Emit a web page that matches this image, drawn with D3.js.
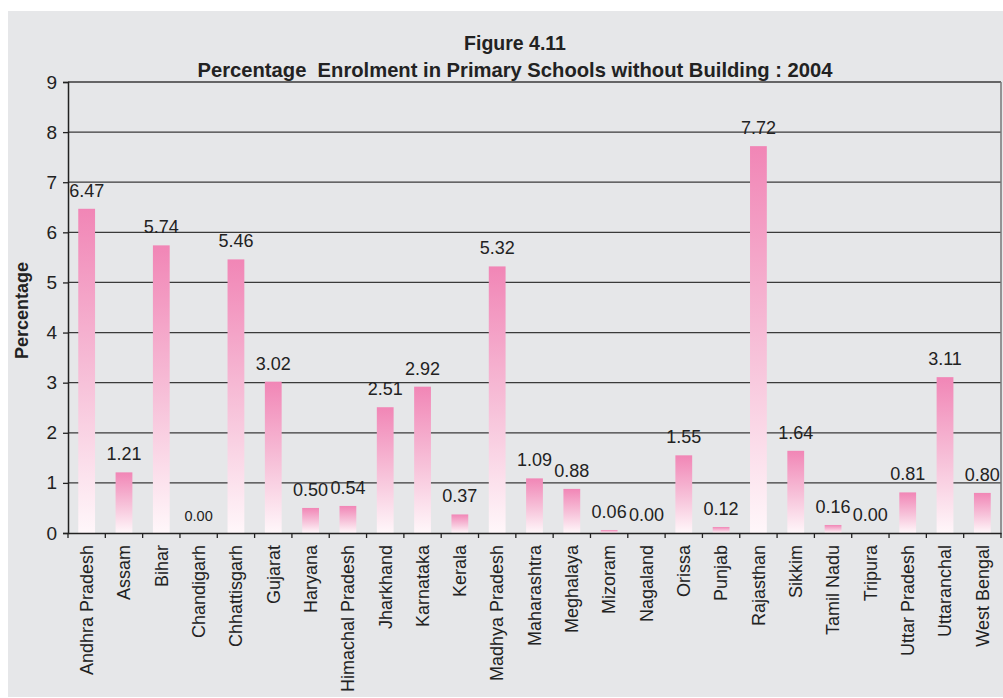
<!DOCTYPE html>
<html><head><meta charset="utf-8">
<script src="https://cdn.jsdelivr.net/npm/d3@7"></script>
<style>
html,body{margin:0;padding:0;background:#fff;}
svg{display:block;font-family:"Liberation Sans",Arial,Helvetica,sans-serif;}
</style></head>
<body>
<svg id="chart" width="1003" height="698"></svg>
<script>
const categories = ["Andhra Pradesh","Assam","Bihar","Chandigarh","Chhattisgarh","Gujarat","Haryana","Himachal Pradesh","Jharkhand","Karnataka","Kerala","Madhya Pradesh","Maharashtra","Meghalaya","Mizoram","Nagaland","Orissa","Punjab","Rajasthan","Sikkim","Tamil Nadu","Tripura","Uttar Pradesh","Uttaranchal","West Bengal"];
const values = [6.47,1.21,5.74,0.00,5.46,3.02,0.50,0.54,2.51,2.92,0.37,5.32,1.09,0.88,0.06,0.00,1.55,0.12,7.72,1.64,0.16,0.00,0.81,3.11,0.80];
const yTicks = [0,1,2,3,4,5,6,7,8,9];
const titleLines = ["Figure 4.11","Percentage  Enrolment in Primary Schools without Building : 2004"];
const yTitle = "Percentage";

const svg = d3.select("#chart");
const W = 1003, H = 698;
const m = {left:68, right:2, top:82, bottom:165};

svg.append("rect").attr("x",8).attr("y",11).attr("width",W-8).attr("height",686).attr("fill","#e6e7e9");

const x = d3.scaleBand().domain(categories).range([m.left, W-m.right]).paddingInner(0.55).paddingOuter(0.275);
const y = d3.scaleLinear().domain([0,9]).range([H-m.bottom, m.top]);

const defs = svg.append("defs");
const grad = defs.append("linearGradient").attr("id","barGrad").attr("x1",0).attr("y1",0).attr("x2",0).attr("y2",1);
grad.append("stop").attr("offset","0%").attr("stop-color","#f186b6");
grad.append("stop").attr("offset","55%").attr("stop-color","#f7c3da");
grad.append("stop").attr("offset","100%").attr("stop-color","#fff7fa");

// gridlines
svg.append("g").selectAll("line").data(yTicks.filter(d=>d>0)).join("line")
  .attr("x1",m.left).attr("x2",W-m.right)
  .attr("y1",d=>y(d)).attr("y2",d=>y(d))
  .attr("stroke","#3a3a3a").attr("stroke-width",1.3);

// right border
svg.append("line").attr("x1",W-m.right).attr("x2",W-m.right).attr("y1",y(9)).attr("y2",y(0))
  .attr("stroke","#777").attr("stroke-width",1.5);

// bars
svg.append("g").selectAll("rect").data(values).join("rect")
  .attr("x",(d,i)=>x(categories[i]))
  .attr("width",x.bandwidth())
  .attr("y",d=>y(d))
  .attr("height",d=>y(0)-y(d))
  .attr("fill","url(#barGrad)");

// value labels
svg.append("g").selectAll("text").data(values).join("text")
  .attr("x",(d,i)=>x(categories[i])+x.bandwidth()/2)
  .attr("y",d=>y(d)-12)
  .attr("text-anchor","middle")
  .attr("font-size",(d,i)=>categories[i]==="Chandigarh"?14.5:18)
  .attr("fill","#222")
  .text(d=>d.toFixed(2));

// y axis
const yAxis = d3.axisLeft(y).tickValues(yTicks).tickSize(5).tickPadding(6).tickFormat(d3.format("d"));
const ga = svg.append("g").attr("transform",`translate(${m.left},0)`).call(yAxis);
ga.select(".domain").attr("stroke","#222").attr("stroke-width",1.5);
ga.selectAll(".tick line").attr("stroke","#222").attr("stroke-width",1.3);
ga.selectAll(".tick text").attr("font-size",19).attr("fill","#222").attr("font-family","Liberation Sans, Arial, sans-serif");

// x axis
const xAxis = d3.axisBottom(x).tickSize(0).tickPadding(0);
const gx = svg.append("g").attr("transform",`translate(0,${y(0)})`).call(xAxis);
gx.select(".domain").attr("stroke","#222").attr("stroke-width",1.5);
gx.selectAll(".tick text")
  .attr("font-size",18).attr("fill","#222").attr("font-family","Liberation Sans, Arial, sans-serif")
  .attr("text-anchor","end")
  .attr("transform","rotate(-90)")
  .attr("x",-12).attr("y",0).attr("dy","0.35em");
// boundary ticks
const step = x.step();
const bounds = d3.range(categories.length+1).map(i=>m.left + i*step);
svg.append("g").selectAll("line").data(bounds).join("line")
  .attr("x1",d=>d).attr("x2",d=>d).attr("y1",y(0)).attr("y2",y(0)+5)
  .attr("stroke","#222").attr("stroke-width",1.3);

// titles
svg.append("text").attr("x",515).attr("y",50).attr("text-anchor","middle")
  .attr("font-size",19.5).attr("font-weight","bold").attr("fill","#222").text(titleLines[0]);
svg.append("text").attr("x",515).attr("y",77).attr("text-anchor","middle")
  .attr("font-size",20.2).attr("font-weight","bold").attr("fill","#222").attr("xml:space","preserve")
  .style("white-space","pre").text(titleLines[1]);

svg.append("text").attr("transform",`translate(28,${(y(0)+y(9))/2 + 3}) rotate(-90)`)
  .attr("text-anchor","middle").attr("font-size",18).attr("font-weight","bold").attr("fill","#222").text(yTitle);
</script>
</body></html>
